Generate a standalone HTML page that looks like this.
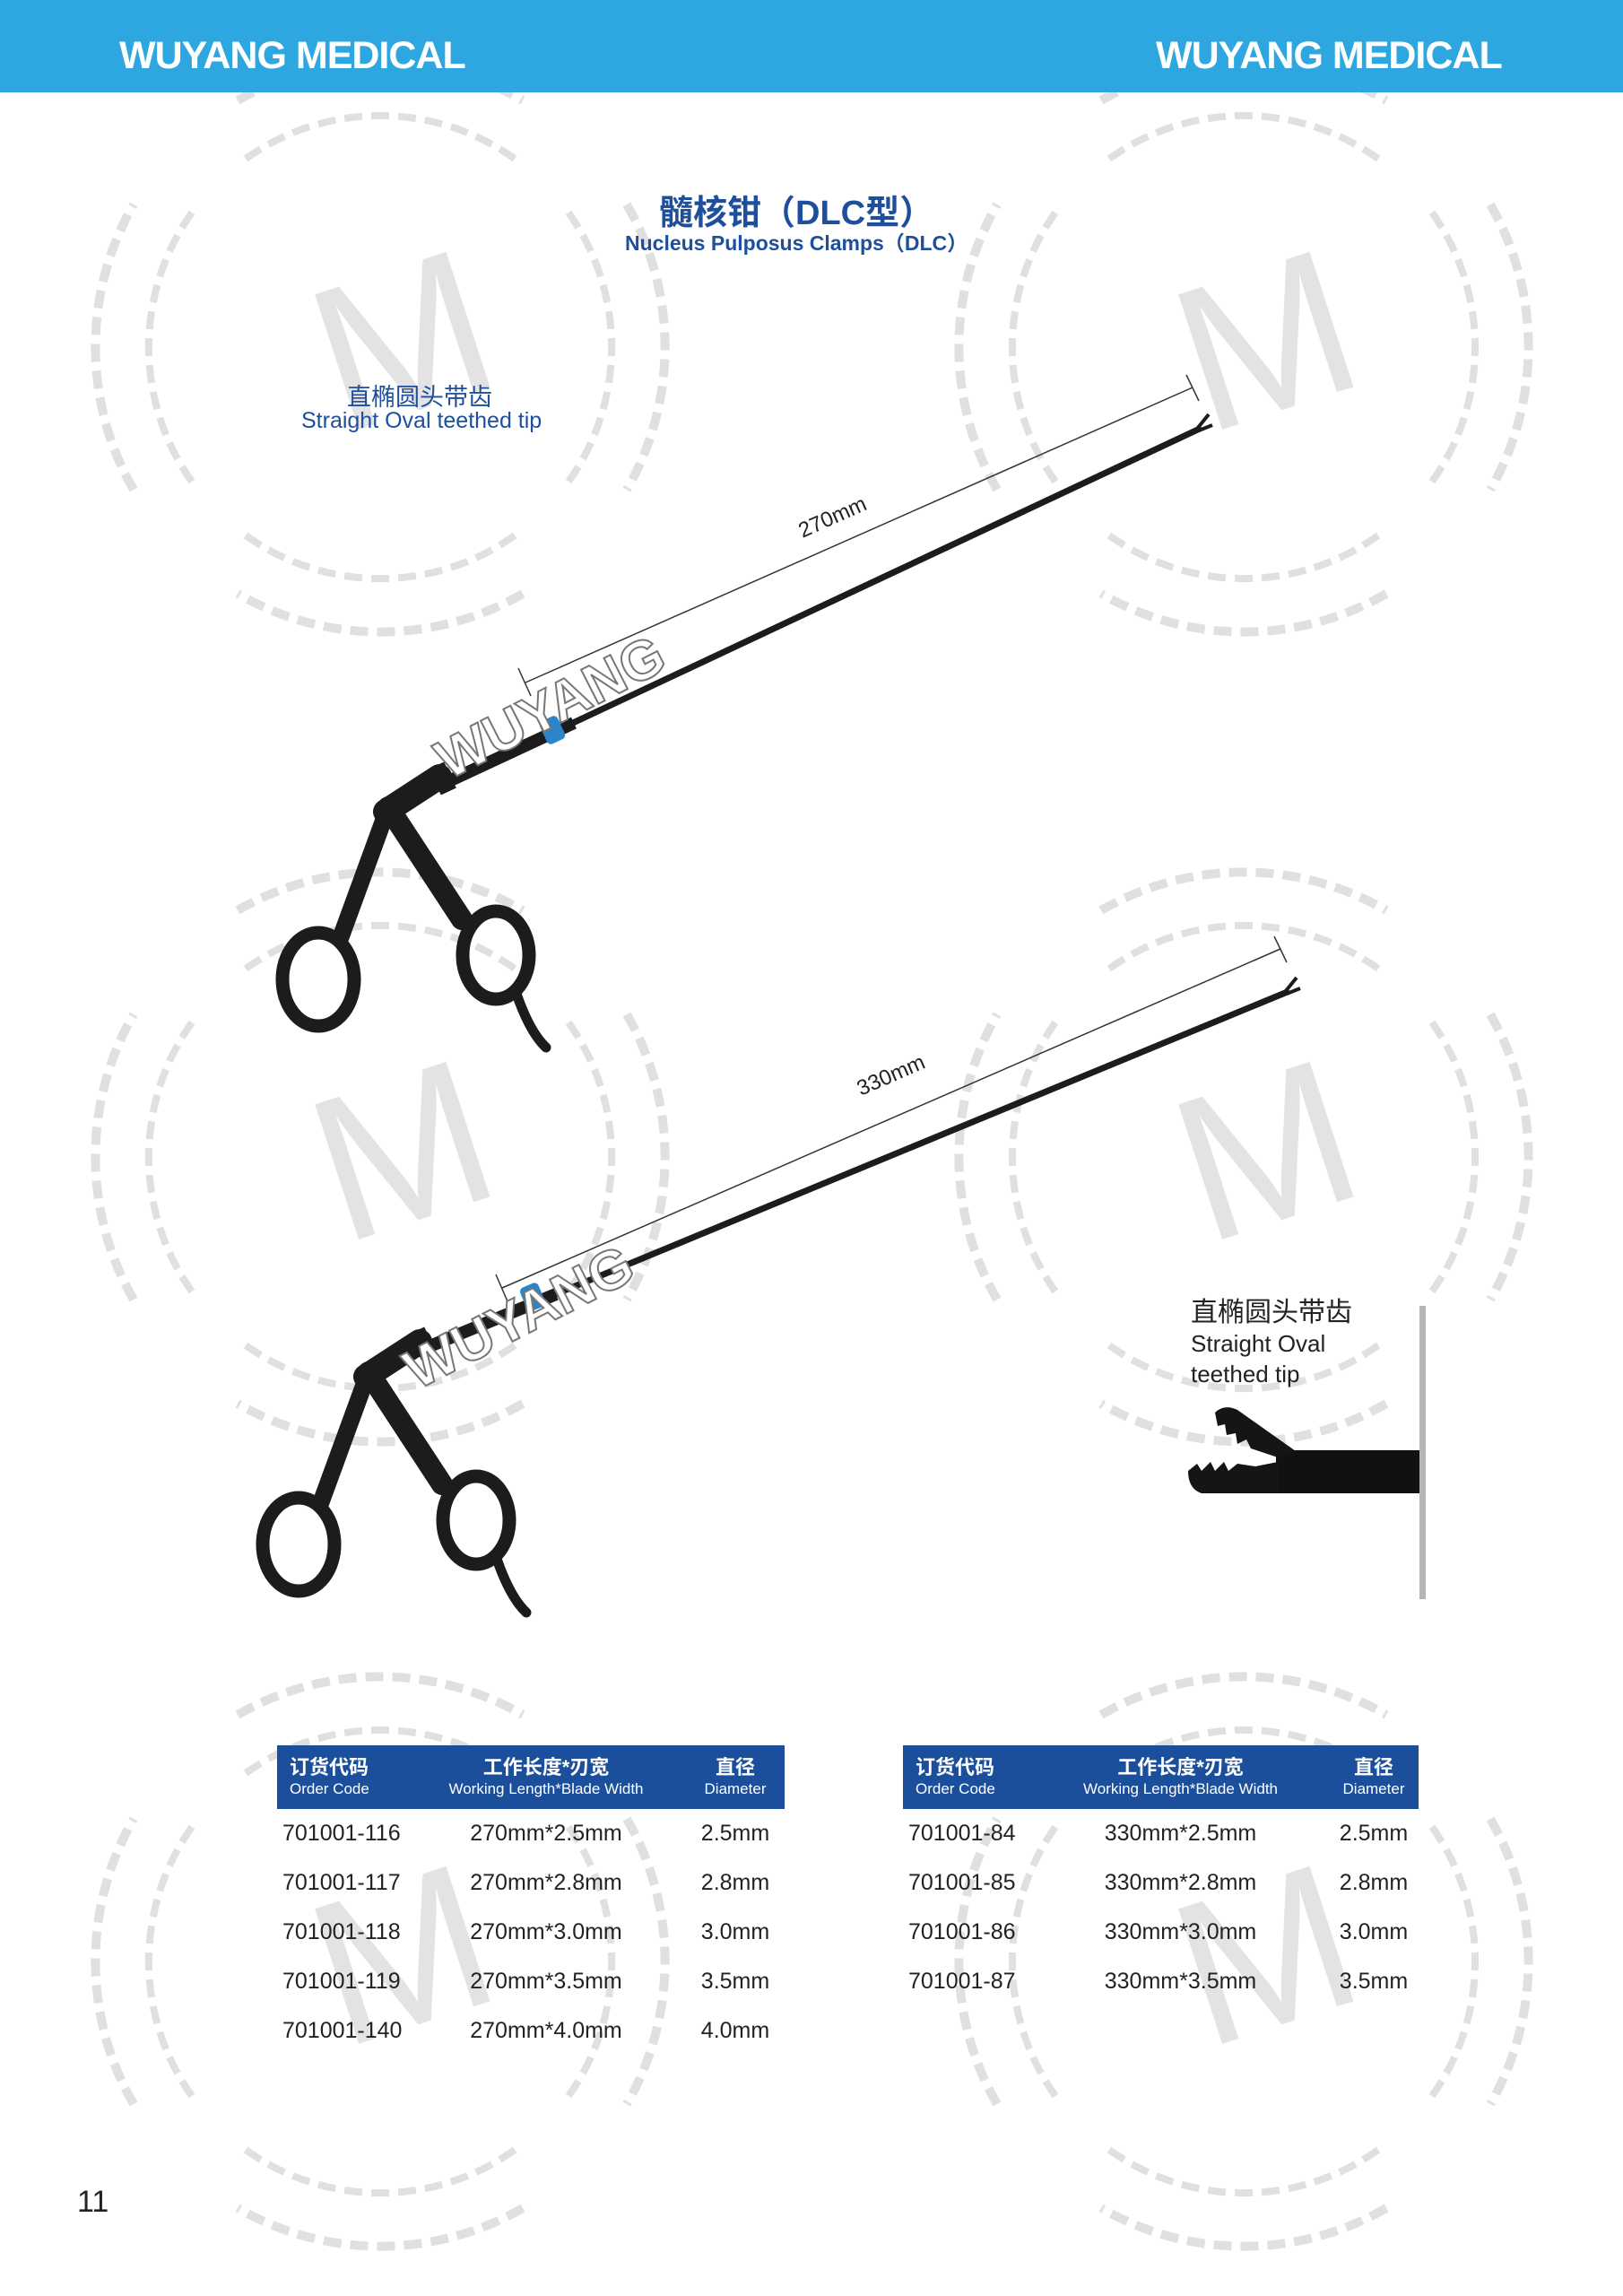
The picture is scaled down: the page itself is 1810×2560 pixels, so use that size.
<!DOCTYPE html>
<html><head><meta charset="utf-8"><style>
body{margin:0;width:1810px;height:2560px;position:relative;background:#fff;font-family:"Liberation Sans","Noto Sans CJK SC",sans-serif;overflow:hidden}
.hdr{position:absolute;left:0;top:0;width:1810px;height:103px;background:#2ea7e0}
.hdr span{position:absolute;top:38px;font-size:43px;font-weight:bold;color:#fff;letter-spacing:-1px}
.t{position:absolute;white-space:nowrap}
table{position:absolute;border-collapse:collapse;font-size:25px;color:#222}
th{background:#1b4e9b;color:#fff;font-weight:bold;font-size:22px;line-height:24px;padding:10px 0 8px;height:53px}
th small{display:block;font-weight:normal;font-size:17px}
td{height:55px;padding:0}
</style></head><body>
<svg width="1810" height="2560" style="position:absolute;left:0;top:0">
<defs>
<g id="ring" fill="none" stroke="#e0e0e0" stroke-width="10" stroke-dasharray="20 10">
<path d="M-159,-275 A318,318 0 0 1 159,-275"/><path d="M275,-159 A318,318 0 0 1 275,159"/>
<path d="M159,275 A318,318 0 0 1 -159,275"/><path d="M-275,159 A318,318 0 0 1 -275,-159"/>
<path d="M-150,-210 A258,258 0 0 1 150,-210" stroke-width="8"/><path d="M210,-150 A258,258 0 0 1 210,150" stroke-width="8"/>
<path d="M150,210 A258,258 0 0 1 -150,210" stroke-width="8"/><path d="M-210,150 A258,258 0 0 1 -210,-150" stroke-width="8"/>
<text x="-70" y="80" font-size="230" fill="#e3e3e3" stroke="none" transform="rotate(-18)" font-family="Liberation Sans">M</text>
</g>
<g id="handle" fill="none" stroke="#1c1c1c" stroke-linecap="round">
<ellipse cx="355" cy="1092" rx="40" ry="52" stroke-width="15"/>
<ellipse cx="553" cy="1065" rx="37" ry="49" stroke-width="15"/>
<path d="M380,1045 L433,900" stroke-width="19"/>
<path d="M433,900 L515,1025" stroke-width="24"/>
<path d="M430,905 L490,866" stroke-width="28"/>
<path d="M575,1105 Q590,1150 609,1168" stroke-width="11"/>
<path d="M485,872 L502,864" stroke-width="32" stroke-linecap="butt"/>
</g>
</defs>
<use href="#ring" x="424" y="387"/><use href="#ring" x="1387" y="387"/>
<use href="#ring" x="424" y="1290"/><use href="#ring" x="1387" y="1290"/>
<use href="#ring" x="424" y="2187"/><use href="#ring" x="1387" y="2187"/>
<line x1="586" y1="761" x2="1330" y2="432" stroke="#333" stroke-width="1.5"/>
<line x1="578" y1="745" x2="592" y2="776" stroke="#333" stroke-width="1.5"/>
<line x1="1323" y1="418" x2="1337" y2="447" stroke="#333" stroke-width="1.5"/>
<text x="0" y="0" font-size="24" fill="#222" transform="translate(895,600) rotate(-24)">270mm</text>
<line x1="494" y1="874" x2="1340" y2="477" stroke="#1c1c1c" stroke-width="7"/>
<line x1="494" y1="874" x2="640" y2="806" stroke="#1c1c1c" stroke-width="14"/>
<path d="M1335,478 L1348,462 M1337,480 L1352,474" stroke="#1c1c1c" stroke-width="4"/>
<rect x="605" y="800" width="22" height="28" rx="5" fill="#2a86c8" transform="rotate(-25 616 814)"/>
<use href="#handle"/>
<text font-size="62" fill="#fff" stroke="#777" stroke-width="2" font-weight="bold" transform="translate(500,870) rotate(-27)">WUYANG</text>
<line x1="560" y1="1436" x2="1428" y2="1058" stroke="#333" stroke-width="1.5"/>
<line x1="553" y1="1421" x2="566" y2="1451" stroke="#333" stroke-width="1.5"/>
<line x1="1421" y1="1044" x2="1435" y2="1073" stroke="#333" stroke-width="1.5"/>
<text font-size="24" fill="#222" transform="translate(960,1222) rotate(-23.5)">330mm</text>
<line x1="472" y1="1504" x2="1438" y2="1105" stroke="#1c1c1c" stroke-width="7"/>
<line x1="472" y1="1504" x2="620" y2="1443" stroke="#1c1c1c" stroke-width="14"/>
<path d="M1433,1106 L1446,1090 M1435,1108 L1450,1102" stroke="#1c1c1c" stroke-width="4"/>
<rect x="583" y="1432" width="22" height="28" rx="5" fill="#2a86c8" transform="rotate(-23 594 1446)"/>
<use href="#handle" x="-22" y="630"/>
<text font-size="62" fill="#fff" stroke="#777" stroke-width="2" font-weight="bold" transform="translate(465,1550) rotate(-27)">WUYANG</text>
<rect x="1583" y="1456" width="7" height="327" fill="#b5b5b5"/>
<rect x="1423" y="1617" width="160" height="48" fill="#111"/>
<path d="M1325,1640 L1335,1632 L1340,1640 L1350,1630 L1355,1640 L1365,1630 L1370,1640 L1380,1632 L1400,1635 L1425,1630 L1425,1665 L1340,1665 Q1325,1660 1325,1640Z" fill="#151515"/>
<path d="M1355,1575 Q1365,1565 1380,1572 L1445,1618 L1425,1625 L1395,1615 L1390,1605 L1380,1610 L1378,1598 L1368,1600 L1366,1588 L1358,1590Z" fill="#151515"/>
</svg>
<div class="hdr"><span style="left:133px">WUYANG MEDICAL</span><span style="left:1289px">WUYANG MEDICAL</span></div>
<div class="t" style="left:735px;top:206px;font-size:38px;font-weight:bold;color:#1d4f9c">髓核钳（DLC型）</div>
<div class="t" style="left:697px;top:252px;font-size:23px;font-weight:bold;color:#1d4f9c">Nucleus Pulposus Clamps（DLC）</div>
<div class="t" style="left:387px;top:421px;font-size:27px;color:#1d4f9c">直椭圆头带齿</div>
<div class="t" style="left:336px;top:455px;font-size:25px;color:#1d4f9c">Straight Oval teethed tip</div>
<div class="t" style="left:1328px;top:1447px;font-size:30px;color:#222;line-height:34px">直椭圆头带齿<br><span style="font-size:26px">Straight Oval<br>teethed tip</span></div>
<table style="left:309px;top:1946px;width:566px">
<tr><th style="width:130px;text-align:left;padding-left:14px">订货代码<small>Order Code</small></th><th>工作长度*刃宽<small>Working Length*Blade Width</small></th><th style="width:110px">直径<small>Diameter</small></th></tr>
<tr><td style="padding-left:6px">701001-116</td><td style="text-align:center">270mm*2.5mm</td><td style="text-align:center">2.5mm</td></tr>
<tr><td style="padding-left:6px">701001-117</td><td style="text-align:center">270mm*2.8mm</td><td style="text-align:center">2.8mm</td></tr>
<tr><td style="padding-left:6px">701001-118</td><td style="text-align:center">270mm*3.0mm</td><td style="text-align:center">3.0mm</td></tr>
<tr><td style="padding-left:6px">701001-119</td><td style="text-align:center">270mm*3.5mm</td><td style="text-align:center">3.5mm</td></tr>
<tr><td style="padding-left:6px">701001-140</td><td style="text-align:center">270mm*4.0mm</td><td style="text-align:center">4.0mm</td></tr>
</table>
<table style="left:1007px;top:1946px;width:575px">
<tr><th style="width:130px;text-align:left;padding-left:14px">订货代码<small>Order Code</small></th><th>工作长度*刃宽<small>Working Length*Blade Width</small></th><th style="width:100px">直径<small>Diameter</small></th></tr>
<tr><td style="padding-left:6px">701001-84</td><td style="text-align:center">330mm*2.5mm</td><td style="text-align:center">2.5mm</td></tr>
<tr><td style="padding-left:6px">701001-85</td><td style="text-align:center">330mm*2.8mm</td><td style="text-align:center">2.8mm</td></tr>
<tr><td style="padding-left:6px">701001-86</td><td style="text-align:center">330mm*3.0mm</td><td style="text-align:center">3.0mm</td></tr>
<tr><td style="padding-left:6px">701001-87</td><td style="text-align:center">330mm*3.5mm</td><td style="text-align:center">3.5mm</td></tr>
</table>
<div class="t" style="left:86px;top:2436px;font-size:34px;color:#222">11</div>
</body></html>
